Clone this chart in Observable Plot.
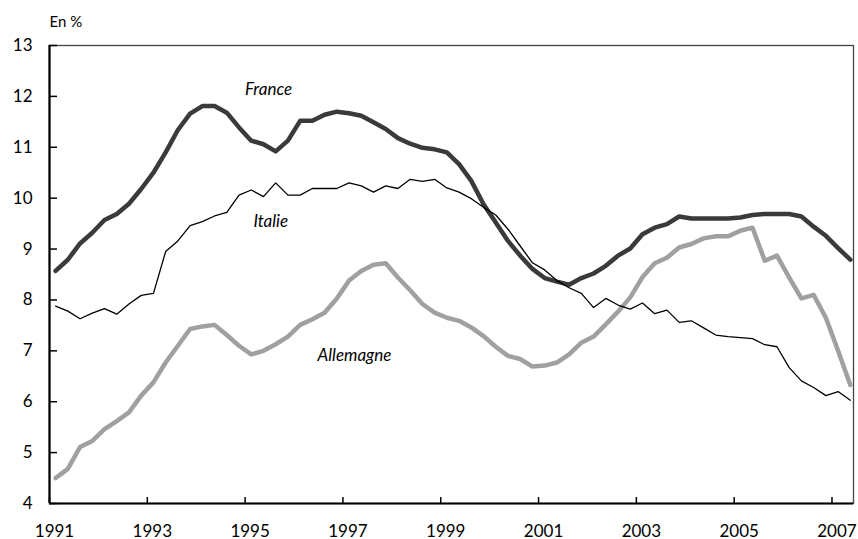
<!DOCTYPE html>
<html><head><meta charset="utf-8">
<script src="https://cdn.jsdelivr.net/npm/d3@7"></script>
<script src="https://cdn.jsdelivr.net/npm/@observablehq/plot@0.6"></script>
<style>html,body{margin:0;padding:0;background:#fff} svg{display:block}</style>
</head><body><div id="chart"></div>
<script>
// Quarterly unemployment rates, 1991 Q1 – 2007 Q2 (en %)
const startYear = 1991;
const france = [8.57,8.79,9.11,9.32,9.57,9.69,9.89,10.18,10.50,10.90,
  11.34,11.66,11.81,11.81,11.68,11.39,11.13,11.06,10.92,11.13,
  11.52,11.52,11.64,11.70,11.67,11.62,11.49,11.36,11.18,11.07,
  10.99,10.96,10.90,10.67,10.34,9.88,9.52,9.16,8.87,8.61,
  8.43,8.36,8.30,8.43,8.52,8.67,8.87,9.01,9.29,9.42,
  9.49,9.64,9.60,9.60,9.60,9.60,9.62,9.67,9.69,9.69,
  9.69,9.64,9.44,9.26,9.02,8.79];
const italie = [7.88,7.78,7.63,7.74,7.83,7.72,7.92,8.09,8.13,8.95,
  9.16,9.46,9.54,9.65,9.72,10.06,10.16,10.03,10.30,10.06,
  10.06,10.19,10.19,10.19,10.30,10.24,10.12,10.24,10.19,10.37,
  10.33,10.37,10.20,10.12,9.99,9.82,9.67,9.39,9.06,8.73,
  8.59,8.38,8.24,8.13,7.85,8.03,7.90,7.82,7.94,7.73,
  7.80,7.56,7.59,7.45,7.31,7.28,7.26,7.24,7.12,7.08,
  6.67,6.41,6.28,6.12,6.20,6.03];
const allemagne = [4.50,4.68,5.11,5.23,5.46,5.62,5.79,6.12,6.38,6.77,
  7.10,7.43,7.48,7.51,7.31,7.10,6.93,7.00,7.13,7.28,
  7.51,7.62,7.75,8.03,8.38,8.57,8.69,8.72,8.44,8.19,
  7.92,7.75,7.65,7.59,7.46,7.29,7.08,6.90,6.84,6.69,
  6.71,6.77,6.93,7.16,7.28,7.52,7.77,8.05,8.45,8.72,
  8.83,9.03,9.10,9.21,9.25,9.25,9.36,9.42,8.77,8.87,
  8.44,8.03,8.10,7.65,7.00,6.33];
const xTicks = [1991,1993,1995,1997,1999,2001,2003,2005,2007];
const yTicks = [4,5,6,7,8,9,10,11,12,13];
const seriesNames = ["France","Italie","Allemagne"];
const labelYears = [1995.0, 1995.17, 1996.48];
const labelValues = [12.14, 9.55, 6.90];

// time index: middle of each quarter
const t = france.map((_, i) => startYear + (i + 0.5) / 4);
const rows = (vals) => vals.map((v, i) => ({t: t[i], v}));
const labels = seriesNames.map((name, i) => ({name, x: labelYears[i], y: labelValues[i]}));

const W = 858, H = 539, mT = 45, mL = 49, mR = 5, mB = 36;
const plotW = W - mL - mR, plotH = H - mT - mB;

const chart = Plot.plot({
  width: W, height: H,
  marginTop: mT, marginLeft: mL, marginRight: mR, marginBottom: mB,
  style: {fontFamily: "Lato, 'Noto Sans', sans-serif", fontSize: "17px", color: "#000", background: "#fff", overflow: "visible"},
  x: {domain: [1991, 2007.44]},
  y: {domain: [4, 13]},
  marks: [
    Plot.frame({stroke: "#444", strokeWidth: 1.3}),
    Plot.axisY(yTicks, {tickSize: 0, tickPadding: 17, label: null, tickFormat: d => String(d), fontSize: 17}),
    Plot.axisX(xTicks, {tickSize: 0, tickPadding: 21, dx: 5, label: null, tickFormat: d => String(d), fontSize: 17}),
    Plot.tickY(yTicks, {y: d => d, insetRight: plotW - 8, stroke: "#000", strokeWidth: 1.5}),
    Plot.tickX(xTicks, {x: d => d, insetTop: plotH - 6, stroke: "#000", strokeWidth: 1.5}),
    Plot.ruleX([1991], {stroke: "#000", strokeWidth: 2.2}),
    Plot.ruleY([4], {stroke: "#000", strokeWidth: 2.2}),
    Plot.line(rows(allemagne), {x: "t", y: "v", stroke: "#a0a0a0", strokeWidth: 4.5, strokeLinejoin: "round", strokeLinecap: "round"}),
    Plot.line(rows(france), {x: "t", y: "v", stroke: "#3a3a3a", strokeWidth: 4.5, strokeLinejoin: "round", strokeLinecap: "round"}),
    Plot.line(rows(italie), {x: "t", y: "v", stroke: "#000", strokeWidth: 1.3}),
    Plot.text(labels, {x: "x", y: "y", text: "name", textAnchor: "start", lineAnchor: "middle", fontStyle: "italic", fontSize: 17, fill: "#000"}),
    Plot.text(["En %"], {frameAnchor: "top-left", text: d => d, dy: -23, textAnchor: "start", lineAnchor: "middle", fontSize: 15, fill: "#000"})
  ]
});
document.getElementById("chart").appendChild(chart);
</script>
</body></html>
